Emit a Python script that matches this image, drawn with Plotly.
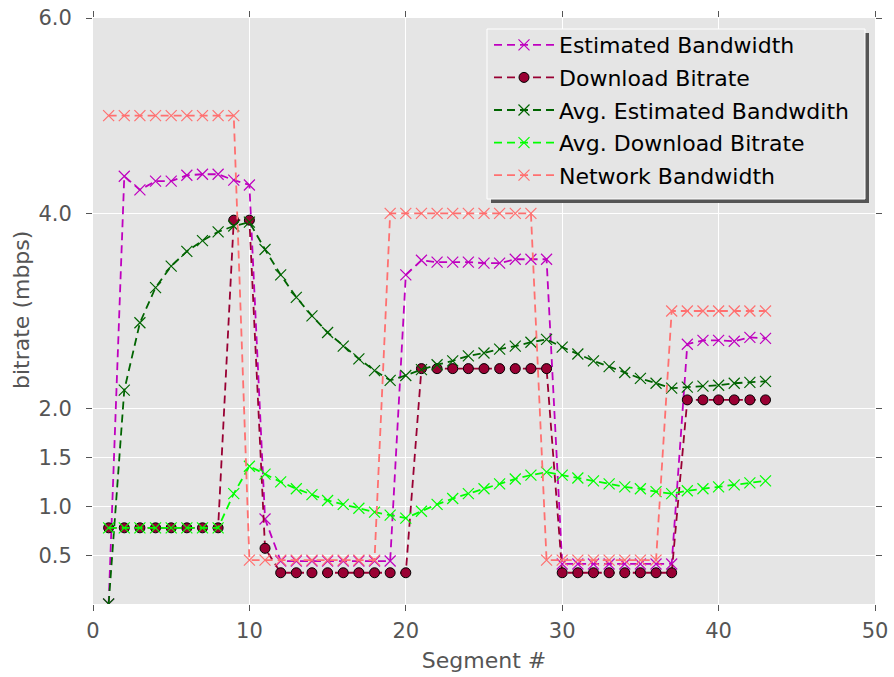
import plotly.graph_objects as go

segments = list(range(1, 44))

estimated_bw = [0.00, 4.38, 4.24, 4.33, 4.33, 4.39, 4.40, 4.40, 4.34, 4.29,
                0.87, 0.44, 0.44, 0.44, 0.44, 0.44, 0.44, 0.44, 0.44, 3.37,
                3.52, 3.50, 3.50, 3.50, 3.49, 3.49, 3.53, 3.53, 3.53, 0.41,
                0.41, 0.41, 0.41, 0.41, 0.41, 0.41, 0.41, 2.66, 2.70, 2.70,
                2.69, 2.73, 2.72]

download_bitrate = [0.78, 0.78, 0.78, 0.78, 0.78, 0.78, 0.78, 0.78, 3.93, 3.93,
                    0.57, 0.32, 0.32, 0.32, 0.32, 0.32, 0.32, 0.32, 0.32, 0.32,
                    2.41, 2.41, 2.41, 2.41, 2.41, 2.41, 2.41, 2.41, 2.41, 0.32,
                    0.32, 0.32, 0.32, 0.32, 0.32, 0.32, 0.32, 2.09, 2.09, 2.09,
                    2.09, 2.09, 2.09]

avg_estimated_bw = [0.00, 2.19, 2.88, 3.24, 3.46, 3.61, 3.72, 3.81, 3.87, 3.91,
                    3.63, 3.37, 3.14, 2.95, 2.78, 2.64, 2.51, 2.39, 2.29, 2.34,
                    2.40, 2.45, 2.49, 2.54, 2.57, 2.61, 2.64, 2.68, 2.71, 2.63,
                    2.56, 2.49, 2.43, 2.37, 2.31, 2.26, 2.21, 2.22, 2.23, 2.24,
                    2.26, 2.27, 2.28]

avg_download_bitrate = [0.78, 0.78, 0.78, 0.78, 0.78, 0.78, 0.78, 0.78, 1.13, 1.41,
                        1.33, 1.25, 1.18, 1.12, 1.06, 1.02, 0.98, 0.94, 0.91, 0.88,
                        0.95, 1.02, 1.08, 1.13, 1.18, 1.23, 1.28, 1.32, 1.35, 1.32,
                        1.29, 1.26, 1.23, 1.20, 1.18, 1.15, 1.13, 1.16, 1.18, 1.20,
                        1.22, 1.24, 1.26]

network_bw = [5.0, 5.0, 5.0, 5.0, 5.0, 5.0, 5.0, 5.0, 5.0, 0.45,
              0.45, 0.45, 0.45, 0.45, 0.45, 0.45, 0.45, 0.45, 4.0, 4.0,
              4.0, 4.0, 4.0, 4.0, 4.0, 4.0, 4.0, 4.0, 0.45, 0.45,
              0.45, 0.45, 0.45, 0.45, 0.45, 0.45, 3.0, 3.0, 3.0, 3.0,
              3.0, 3.0, 3.0]

y_tickvals = [0.5, 1.0, 1.5, 2.0, 4.0, 6.0]
y_ticktext = ["0.5", "1.0", "1.5", "2.0", "4.0", "6.0"]
x_tickvals = [0, 10, 20, 30, 40, 50]

FONT = "DejaVu Sans"
DASH = "8px,5px"

fig = go.Figure()

def add_x_series(name, y, color, idx):
    fig.add_trace(go.Scatter(
        x=segments, y=y, name=name, mode="lines+markers",
        line=dict(color=color, width=1.8, dash=DASH),
        marker=dict(symbol="x-thin", size=11, line=dict(color=color, width=1.2), color=color),
        legendgroup=f"g{idx}",
    ))

add_x_series("Estimated Bandwidth", estimated_bw, "#BF00BF", 0)
fig.add_trace(go.Scatter(
    x=segments, y=download_bitrate, name="Download Bitrate", mode="lines+markers",
    line=dict(color="#990033", width=1.8, dash=DASH),
    marker=dict(symbol="circle", size=10, color="#990033", line=dict(color="black", width=1)),
    legendgroup="g1",
))
add_x_series("Avg. Estimated Bandwdith", avg_estimated_bw, "#006400", 2)
add_x_series("Avg. Download Bitrate", avg_download_bitrate, "#00FF00", 3)
add_x_series("Network Bandwidth", network_bw, "#FF7070", 4)

# plot area on screen: x 93..875, y 18..604
W, H = 894, 677
L, T = 93, 18
R, B = W - 875, H - 604
pw, ph = W - L - R, H - T - B

def px(xs):
    return (xs - L) / pw

def py(ys):
    return (H - B - ys) / ph

# legend box with shadow (drawn as shapes, legend text on top)
fig.add_shape(type="rect", xref="paper", yref="paper",
              x0=px(491), x1=px(869), y0=py(203), y1=py(33),
              fillcolor="#555555", line=dict(width=0), layer="above")
fig.add_shape(type="rect", xref="paper", yref="paper",
              x0=px(487), x1=px(865), y0=py(199), y1=py(29),
              fillcolor="#E5E5E5", line=dict(color="white", width=1), layer="above")

# y axis title as annotation for exact placement
fig.add_annotation(text="bitrate (mbps)", xref="paper", yref="paper",
                   x=px(21), y=py(310), textangle=-90, showarrow=False,
                   xanchor="center", yanchor="middle",
                   font=dict(family=FONT, size=22, color="#555555"))

fig.update_layout(
    width=W, height=H,
    margin=dict(l=L, r=R, t=T, b=B, autoexpand=False),
    paper_bgcolor="white",
    plot_bgcolor="#E5E5E5",
    font=dict(family=FONT, color="#555555", size=21),
    showlegend=True,
    legend=dict(
        x=px(489), y=py(24), xanchor="left", yanchor="top",
        bgcolor="rgba(0,0,0,0)", borderwidth=0,
        font=dict(family=FONT, size=22, color="black"),
        itemwidth=60, tracegroupgap=1,
    ),
    xaxis=dict(
        range=[0, 50], tickvals=x_tickvals, ticks="outside", ticklen=6,
        tickcolor="#555555", mirror="ticks", showline=False, automargin=False,
        showgrid=True, gridcolor="white", gridwidth=1, zeroline=False,
        ticklabelstandoff=2, ticklabeloverflow="allow",
        title=dict(text="Segment #", font=dict(size=22, color="#555555"), standoff=10),
        tickfont=dict(size=21, color="#555555"),
    ),
    yaxis=dict(
        range=[0, 6], tickvals=y_tickvals, ticktext=y_ticktext, ticks="outside", ticklen=6,
        tickcolor="#555555", mirror="ticks", showline=False, automargin=False,
        showgrid=True, gridcolor="white", gridwidth=1, zeroline=False,
        ticklabelstandoff=10, ticklabeloverflow="allow",
        tickfont=dict(size=21, color="#555555"),
    ),
)

fig.write_html("out.html", config={"displayModeBar": False},
               post_script="document.body.style.margin='0';document.body.style.padding='0';")
